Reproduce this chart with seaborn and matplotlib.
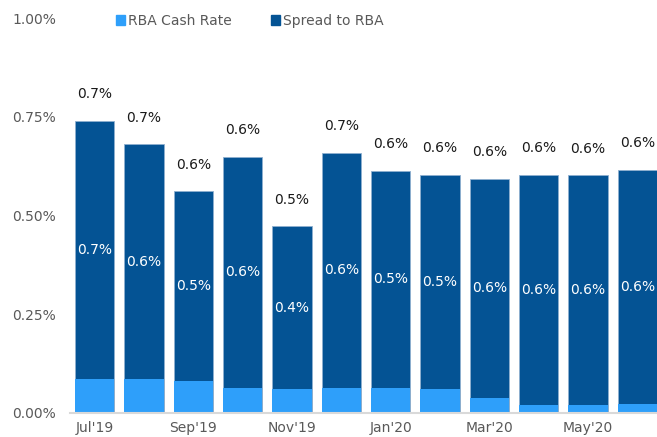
import numpy as np
import pandas as pd
import matplotlib
matplotlib.use('Agg')
import matplotlib.pyplot as plt
import seaborn as sns
from matplotlib.patches import Patch

months = ["Jul'19", "Aug'19", "Sep'19", "Oct'19", "Nov'19", "Dec'19",
          "Jan'20", "Feb'20", "Mar'20", "Apr'20", "May'20", "Jun'20"]
cash_rate = [0.086, 0.085, 0.082, 0.064, 0.061, 0.064,
             0.064, 0.060, 0.038, 0.021, 0.021, 0.023]
spread = [0.654, 0.595, 0.480, 0.585, 0.412, 0.595,
          0.549, 0.543, 0.555, 0.582, 0.581, 0.593]

light_blue = '#2e9ffa'
dark_blue = '#045394'
grey_txt = '#595959'

sns.set_style('white')
plt.rcParams['font.family'] = ['DejaVu Sans']

df = pd.DataFrame({'month': months, 'cash': cash_rate, 'spread': spread})
df['total'] = df['cash'] + df['spread']

fig = plt.figure(figsize=(6.57, 4.37), dpi=100)
ax = fig.add_axes([70 / 657, 24 / 437, 587 / 657, 395 / 437])

# total first (dark), cash rate drawn over the bottom part
sns.barplot(data=df, x='month', y='total', color=dark_blue, saturation=1,
            width=0.8, edgecolor='#8fb0cf', linewidth=0.6, ax=ax)
sns.barplot(data=df, x='month', y='cash', color=light_blue, saturation=1,
            width=0.8, linewidth=0, ax=ax)

for i, row in df.iterrows():
    ax.annotate('{:.1f}%'.format(row['total']), (i, row['total']),
                xytext=(0, 19), textcoords='offset points',
                ha='center', va='center', fontsize=10, color='#1a1a1a')
    ax.text(i, row['cash'] + row['spread'] / 2, '{:.1f}%'.format(row['spread']),
            ha='center', va='center', fontsize=10, color='white')

ax.set_xlim(-0.5, 11.4)
ax.set_ylim(0, 1.0)
ax.set_yticks([0, 0.25, 0.5, 0.75, 1.0])
ax.set_yticklabels(['{:.2f}%'.format(v) for v in [0, 0.25, 0.5, 0.75, 1.0]])
ax.set_xticks(range(0, 12, 2))
ax.set_xticklabels(months[::2])
ax.tick_params(axis='both', length=0, labelsize=10, labelcolor=grey_txt)
ax.tick_params(axis='y', pad=10)
ax.tick_params(axis='x', pad=6)
ax.set_xlabel('')
ax.set_ylabel('')

for s in ['top', 'right', 'left']:
    ax.spines[s].set_visible(False)
ax.spines['bottom'].set_color('#d9d9d9')
ax.spines['bottom'].set_linewidth(1.5)

handles = [Patch(color=light_blue, label='RBA Cash Rate'),
           Patch(color=dark_blue, label='Spread to RBA')]
fig.legend(handles=handles, loc='center left', bbox_to_anchor=(103 / 657, 1 - 21 / 437),
           ncol=2, frameon=False, fontsize=10, labelcolor=grey_txt,
           handlelength=0.7, handleheight=0.7, handletextpad=0.2, columnspacing=2.8)

plt.savefig('out.png', dpi=100)
